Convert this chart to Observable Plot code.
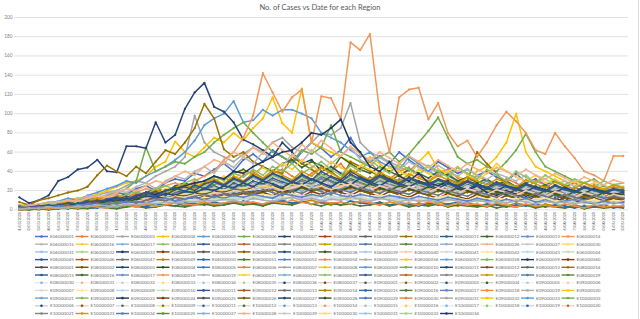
<!DOCTYPE html>
<html>
<head>
<meta charset="utf-8">
<script src="https://cdn.jsdelivr.net/npm/d3@7"></script>
<script src="https://cdn.jsdelivr.net/npm/@observablehq/plot@0.6"></script>
<style>
  html, body { margin: 0; padding: 0; background: #fff; }
  #wrap { position: relative; width: 638px; height: 319px; border-right: 1px solid #d9d9d9; overflow: hidden; }
  #title { position: absolute; top: 3px; left: 0; width: 640px; text-align: center; font: 7.5px Lato, "Open Sans", sans-serif; color: #595959; }
  #chart { position: absolute; top: 0; left: 0; }
  #legend { position: absolute; top: 232px; left: 0; }
</style>
</head>
<body>
<div id="wrap">
  <div id="chart"></div>
  <div id="title">No. of Cases vs Date for each Region</div>
  <svg id="legend" width="640" height="87"></svg>
</div>
<script>
const chartTitle = "No. of Cases vs Date for each Region";
const yTicks = [0, 20, 40, 60, 80, 100, 120, 140, 160, 180, 200];
const dates = [
  "01/03/2020","02/03/2020","03/03/2020","04/03/2020","05/03/2020","06/03/2020","07/03/2020","08/03/2020","09/03/2020","10/03/2020",
  "11/03/2020","12/03/2020","13/03/2020","14/03/2020","15/03/2020","16/03/2020","17/03/2020","18/03/2020","19/03/2020","20/03/2020",
  "21/03/2020","22/03/2020","23/03/2020","24/03/2020","25/03/2020","26/03/2020","27/03/2020","28/03/2020","29/03/2020","30/03/2020",
  "31/03/2020","01/04/2020","02/04/2020","03/04/2020","04/04/2020","05/04/2020","06/04/2020","07/04/2020","08/04/2020","09/04/2020",
  "10/04/2020","11/04/2020","12/04/2020","13/04/2020","14/04/2020","15/04/2020","16/04/2020","17/04/2020","18/04/2020","19/04/2020",
  "20/04/2020","21/04/2020","22/04/2020","23/04/2020","24/04/2020","25/04/2020","26/04/2020","27/04/2020","28/04/2020","29/04/2020",
  "30/04/2020","01/05/2020","02/05/2020"
];
const regionCodes = [
  "E06000001","E06000002","E06000003","E06000004","E06000005","E06000006","E06000007","E06000008","E06000009","E06000010",
  "E06000011","E06000012","E06000013","E06000014","E06000015","E06000016","E06000017","E06000018","E06000019","E06000020",
  "E06000021","E06000022","E06000023","E06000024","E06000025","E06000026","E06000027","E06000030","E06000031","E06000032",
  "E06000033","E06000034","E06000035","E06000036","E06000037","E06000038","E06000039","E06000040","E06000041","E06000042",
  "E06000043","E06000044","E06000045","E06000046","E06000047","E06000049","E06000050","E06000051","E06000052","E06000054",
  "E06000055","E06000056","E06000057","E06000058","E06000059","E06000060",
  "E08000001","E08000002","E08000003","E08000004","E08000005","E08000006","E08000007","E08000008","E08000009","E08000010",
  "E08000011","E08000012","E08000013","E08000014","E08000015","E08000016","E08000017","E08000018","E08000019",
  "E08000021","E08000022","E08000023","E08000024","E08000025","E08000026","E08000027","E08000028","E08000029","E08000030",
  "E08000031","E08000032","E08000033","E08000034","E08000035","E08000036","E08000037",
  "E09000001","E09000002","E09000003","E09000004","E09000005","E09000006","E09000007","E09000008","E09000009","E09000010",
  "E09000011","E09000012","E09000013","E09000014","E09000015","E09000016","E09000017","E09000018","E09000019","E09000020",
  "E09000021","E09000022","E09000023","E09000024","E09000025","E09000026","E09000027","E09000028","E09000029","E09000030",
  "E09000031","E09000032","E09000033",
  "E10000003","E10000006","E10000007","E10000008","E10000009","E10000011","E10000012","E10000013","E10000014","E10000015",
  "E10000016","E10000017","E10000018","E10000019","E10000020","E10000021","E10000023","E10000024","E10000025","E10000027",
  "E10000028","E10000029","E10000030","E10000031","E10000032","E10000034"
];

// Daily cases per region (63 dates each)
const E06000001 = [2,4,3,6,8,7,10,12,11,15, 18,16,22,25,20,28,32,30,38,35, 42,48,40,52,58,50,62,55,48,60, 70,64,55,62,75,58,50,56,48,60, 52,45,40,50,44,38,42,36,40,34, 30,38,28,32,26,30,24,28,22,20, 25,18,20];
const E06000002 = [3,2,4,6,5,8,7,10,9,12, 14,11,16,18,15,20,24,22,28,25, 30,34,28,36,40,33,38,42,35,30, 38,45,40,48,36,42,50,38,32,40, 44,35,30,38,42,33,28,36,30,25, 32,28,22,30,26,20,24,18,22,26, 20,24,22];
const E06000003 = [5,4,6,8,7,10,12,11,15,18, 20,25,30,28,35,40,45,55,98,70, 60,55,50,58,65,60,70,75,65,60, 70,80,78,85,111,70,60,55,50,45, 40,50,45,38,35,30,28,35,30,25, 28,22,20,25,18,15,20,14,12,15, 10,12,9];
const E06000004 = [4,6,5,8,7,10,12,14,16,20, 24,28,30,35,45,50,71,60,55,65, 75,70,80,72,85,95,117,90,80,126, 70,65,60,55,50,45,55,48,40,45, 35,50,60,42,38,35,30,40,45,55, 70,100,60,45,40,35,30,25,28,22, 20,18,15];
const E06000005 = [3,5,4,7,9,12,10,15,18,22, 25,30,28,35,40,45,52,60,72,88, 95,100,113,91,93,104,98,104,104,100, 95,80,75,70,62,55,60,50,45,42, 55,48,40,35,38,30,28,25,30,22, 20,25,18,15,20,14,12,16,10,12, 9,11,8];
const E06000006 = [2,3,5,4,6,8,10,9,12,15, 18,22,30,65,40,45,50,48,55,60, 70,78,85,91,80,70,60,55,50,62, 58,65,88,60,55,50,45,55,60,50, 58,70,82,96,75,55,48,52,45,40, 50,62,79,60,45,40,35,30,28,32, 25,20,22];
const E06000007 = [13,7,10,15,30,34,42,44,52,40, 39,66,66,64,91,70,78,105,122,132, 107,102,91,73,68,62,55,70,60,48, 52,40,45,38,30,35,28,40,30,25, 33,28,22,30,24,26,20,28,18,22, 15,20,14,18,12,16,10,14,12,9, 15,10,12];
const E06000008 = [1,3,2,4,3,6,5,8,7,6, 10,9,12,11,14,13,16,15,20,18, 22,19,25,21,18,24,28,22,26,30, 24,20,27,31,25,22,28,24,20,26, 23,19,25,21,18,24,20,17,22,19, 16,21,18,14,19,16,13,17,15,12, 16,14,12];
const E06000009 = [4,2,5,3,6,5,8,6,9,11, 8,13,10,15,12,18,14,20,17,22, 19,25,21,27,24,20,26,23,29,25, 22,28,24,21,27,23,19,25,22,18, 24,20,17,22,19,16,21,18,15,20, 17,14,19,16,13,18,15,12,17,14, 11,15,13];
const E06000010 = [8,5,10,12,15,18,20,24,36,46, 40,35,45,38,50,62,58,70,85,110, 95,63,55,60,50,45,40,38,55,48, 42,35,40,32,50,45,40,35,30,36, 28,30,25,22,32,28,30,60,48,38, 25,20,24,18,15,20,16,12,14,10, 12,9,8];
const E06000011 = [0,1,2,1,3,2,4,5,3,6, 7,5,9,8,11,10,13,12,16,14, 18,15,20,17,22,19,24,21,18,23, 20,26,22,19,25,21,18,23,20,17, 22,19,16,21,18,15,20,17,14,19, 16,13,18,15,12,17,14,11,16,13, 10,14,12];
const E06000012 = [2,3,5,4,6,8,7,10,12,9, 14,16,13,18,22,19,25,28,24,30, 35,32,38,42,36,45,40,48,52,44, 50,46,40,55,48,42,38,45,40,35, 42,38,33,40,36,30,34,28,32,26, 30,24,28,22,26,20,24,18,22,16, 20,18,16];
const E06000013 = [1,2,1,3,4,3,5,6,4,8, 9,7,11,10,13,12,15,18,14,20, 17,22,19,25,21,28,24,30,26,22, 28,32,26,23,29,25,31,27,23,28, 24,20,26,22,19,24,21,18,23,20, 17,22,19,16,20,17,14,18,15,13, 17,14,15];
const E06000014 = [3,5,4,7,6,9,8,12,10,14, 16,13,18,22,20,25,28,24,30,35, 40,52,60,75,98,142,122,102,117,125, 70,118,116,94,174,166,183,101,60,117, 125,127,94,111,80,66,72,55,70,88, 102,92,80,62,58,80,66,54,40,36, 30,56,56];
const E06000015 = [3,5,4,7,9,8,11,14,12,16, 20,18,24,28,22,30,35,32,40,45, 38,50,44,55,48,60,52,45,58,50, 62,55,48,56,65,52,46,54,48,42, 50,44,38,46,40,35,42,36,32,38, 34,30,36,28,32,26,30,24,28,22, 26,20,24];
const E06000016 = [2,1,3,5,4,6,8,7,10,9, 12,15,13,18,16,22,20,26,24,30, 28,35,32,40,36,44,38,48,42,52, 46,40,50,44,38,46,42,36,44,40, 34,42,38,32,40,45,36,30,38,48, 40,34,30,36,28,32,26,30,24,28, 22,26,24];
const E06000017 = [1,2,3,2,4,5,4,6,7,6, 8,10,9,12,11,14,13,16,15,18, 17,20,19,22,21,24,20,26,23,19, 25,22,27,24,20,26,23,28,25,21, 27,24,20,26,23,19,25,22,18,24, 21,17,23,20,16,22,19,15,21,18, 14,20,17];
const E06000018 = [2,4,3,5,7,6,9,8,12,14, 11,16,19,15,22,25,21,28,32,26, 35,30,38,34,42,36,45,40,48,38, 44,50,42,36,46,40,52,44,38,48, 42,36,46,40,34,44,38,32,42,36, 30,40,34,28,36,30,26,32,28,24, 30,26,28];
const E06000019 = [1,3,2,4,3,5,7,6,8,10, 9,12,11,14,16,13,18,20,17,22, 25,21,28,24,30,27,33,29,26,32, 28,35,30,26,33,29,25,31,27,24, 30,26,23,28,25,21,27,23,20,25, 22,19,24,21,18,23,20,17,22,19, 16,21,18];
const E06000020 = [0,2,1,3,2,4,3,5,6,4, 7,9,8,11,10,13,12,15,14,17, 16,19,18,21,20,23,22,19,24,21, 26,23,20,25,22,27,24,21,26,23, 20,25,22,19,24,21,18,23,20,17, 22,19,16,21,18,15,20,17,14,19, 16,13,15];
const E06000021 = [2,1,3,4,2,5,6,4,7,9, 8,11,10,13,15,12,17,19,16,21, 24,20,26,23,28,25,31,27,24,30, 26,33,29,25,31,27,34,30,26,32, 28,24,30,26,23,28,25,21,27,23, 20,25,22,19,24,21,18,23,20,17, 21,18,20];
const E06000022 = [3,2,5,4,6,8,7,9,12,10, 14,13,17,15,20,18,23,26,22,28, 32,27,35,30,38,33,41,36,31,40, 35,44,38,33,42,36,31,39,34,30, 37,33,29,36,31,27,34,30,26,32, 28,24,31,27,23,29,25,22,28,24, 21,26,23];
const E06000023 = [1,1,2,3,2,4,5,3,6,7, 5,8,10,9,12,11,14,13,16,15, 18,17,20,19,23,21,25,22,20,24, 21,27,23,20,25,22,28,24,21,26, 23,20,25,22,19,24,21,18,23,20, 17,22,19,16,21,18,15,20,17,14, 18,15,16];
const E06000024 = [2,3,2,4,6,5,7,9,8,10, 13,11,15,14,18,16,21,19,24,22, 27,25,30,27,33,29,36,31,28,34, 30,37,32,28,35,31,27,33,29,26, 32,28,25,30,27,23,29,25,22,27, 24,21,26,23,20,25,22,19,24,21, 18,22,20];
const E06000025 = [1,2,3,2,4,3,5,4,6,8, 7,9,11,10,12,14,13,16,15,18, 20,17,22,19,24,21,26,23,20,25, 22,27,24,21,26,23,20,25,22,19, 24,21,18,23,20,17,22,19,16,21, 18,15,20,17,14,19,16,13,18,15, 12,16,14];
const E06000026 = [2,4,6,5,8,10,9,12,15,13, 18,22,20,25,30,28,35,40,36,45, 52,48,60,55,65,58,70,62,55,68, 60,72,64,56,66,58,52,60,54,48, 56,50,44,52,46,40,48,42,38,44, 40,35,42,36,32,38,33,28,34,30, 26,31,28];
const E06000027 = [1,3,2,4,5,3,6,8,7,9, 11,10,13,12,15,17,14,19,21,18, 23,20,25,22,27,24,29,26,23,28, 25,30,27,24,29,26,23,28,25,22, 27,24,21,26,23,20,25,22,19,24, 21,18,23,20,17,22,19,16,21,18, 15,19,17];
const E06000030 = [2,1,3,2,5,4,6,5,8,7, 9,11,10,13,12,15,14,17,16,19, 18,21,20,23,22,25,24,21,27,23, 20,26,22,28,24,21,27,23,20,25, 22,19,24,21,18,23,20,17,22,19, 16,21,18,15,20,17,14,19,16,13, 17,14,15];
const E06000031 = [1,2,2,3,4,3,5,6,5,7, 8,7,10,9,11,13,12,14,16,15, 17,19,18,21,20,23,22,19,24,21, 23,20,25,22,19,24,21,18,23,20, 22,19,17,21,18,16,20,17,15,19, 16,14,18,15,13,17,14,12,16,13, 11,15,13];
const E06000032 = [3,2,4,5,4,6,8,7,10,9, 12,14,11,16,18,15,20,22,19,25, 28,24,30,27,33,29,35,31,27,33, 29,36,32,28,34,30,26,32,28,25, 31,27,24,29,26,22,28,24,21,27, 23,20,25,22,19,24,21,18,22,19, 17,21,19];
const E06000033 = [1,2,3,2,4,5,6,5,8,10, 12,9,14,18,16,20,22,25,28,30, 35,32,40,38,45,50,55,60,62,70, 80,78,85,94,70,60,45,40,50,35, 30,38,28,25,30,22,20,25,18,15, 20,16,12,15,10,12,9,8,11,7, 9,8,7];
const E06000034 = [1,2,1,3,2,4,3,5,4,6, 5,8,7,9,8,11,10,12,11,14, 13,15,14,17,16,18,15,20,17,14, 19,16,21,18,15,20,17,14,19,16, 13,18,15,12,17,14,11,16,13,10, 15,12,9,14,11,8,13,10,7,12, 9,11,10];
const E06000035 = [2,3,4,3,5,7,6,8,10,9, 11,14,12,16,19,15,21,24,20,27, 30,26,33,29,36,31,38,34,29,37, 32,28,35,31,40,34,30,36,32,28, 34,30,27,32,29,25,30,27,23,29, 25,22,27,24,20,26,22,19,24,21, 18,22,20];
const E06000036 = [0,1,2,1,3,2,4,3,5,6, 4,7,8,6,9,11,10,12,13,11, 15,14,17,16,19,18,21,17,20,23, 19,22,18,21,24,20,17,22,19,16, 21,18,15,20,17,14,19,16,13,18, 15,12,17,14,11,16,13,10,15,12, 9,13,11];
const E06000037 = [1,2,4,3,5,4,7,6,8,10, 9,12,11,14,13,17,15,19,18,22, 20,25,23,28,24,30,27,23,29,26, 32,28,24,30,26,33,29,25,31,27, 24,29,26,22,28,24,21,27,23,20, 25,22,19,24,21,18,23,20,17,22, 19,16,18];
const E06000038 = [2,1,3,4,3,5,4,6,8,7, 9,8,11,10,13,12,15,14,17,16, 19,18,21,20,23,19,25,22,18,24, 20,26,22,19,24,21,27,23,20,25, 22,19,24,21,18,23,20,17,22,19, 16,21,18,15,20,17,14,19,16,13, 18,15,16];
const E06000039 = [0,1,1,2,1,3,2,4,3,5, 4,6,5,7,6,8,7,9,8,10, 9,11,10,12,11,13,12,10,14,11, 13,10,15,12,9,14,11,13,10,12, 9,11,8,13,10,12,9,11,8,10, 7,9,11,8,10,7,9,6,8,7, 9,6,8];
const E06000040 = [1,0,2,3,2,4,3,5,4,6, 8,7,9,11,10,12,14,13,16,15, 18,17,20,19,22,21,24,20,23,26, 22,25,21,24,27,23,20,25,22,19, 24,21,18,23,20,17,22,19,16,21, 18,15,20,17,14,19,16,13,18,15, 12,16,14];
const E06000041 = [1,2,3,2,4,3,5,4,6,5, 7,6,8,7,9,8,10,9,11,10, 12,11,13,12,14,13,15,12,14,16, 13,15,12,14,17,13,11,15,12,14, 11,13,10,12,14,11,9,13,10,12, 9,11,8,10,12,9,7,11,8,10, 7,9,8];
const E06000042 = [2,1,2,3,2,4,3,5,4,6, 5,7,6,8,7,10,9,11,10,13, 12,14,13,15,14,16,15,13,17,14, 16,13,18,15,12,17,14,16,13,15, 12,14,11,13,15,12,10,14,11,13, 10,12,9,11,13,10,8,12,9,11, 8,10,9];
const E06000043 = [0,1,2,1,2,3,2,4,3,5, 6,5,7,6,8,7,9,8,10,9, 11,10,12,11,13,12,14,11,13,10, 12,14,11,13,10,12,9,11,13,10, 12,9,11,8,10,12,9,11,8,10, 7,9,11,8,10,7,9,6,8,7, 9,6,8];
const E06000044 = [1,2,1,3,2,4,3,5,4,6, 5,7,6,8,9,7,10,8,11,9, 12,10,13,11,14,12,15,13,11,14, 12,15,13,11,14,12,10,13,11,9, 12,10,8,11,9,12,10,8,11,9, 7,10,8,11,9,7,10,8,6,9, 7,8,7];
const E06000045 = [3,2,4,5,4,7,6,9,8,11, 13,10,15,18,14,20,23,19,26,22, 29,25,32,28,35,30,38,33,28,36, 31,40,34,29,37,32,27,35,30,26, 33,28,25,31,27,23,29,25,22,27, 24,20,26,22,19,25,21,18,23,20, 17,21,19];
const E06000047 = [1,2,3,2,4,5,3,6,7,5, 8,9,7,10,12,9,13,11,14,16, 13,17,15,19,16,21,18,15,20,17, 22,19,16,21,18,23,20,17,22,19, 16,21,18,15,20,17,14,19,16,13, 18,15,12,17,14,11,16,13,10,15, 12,14,12];
const E06000049 = [0,1,0,2,1,3,2,1,3,4, 2,5,3,4,6,5,7,4,6,8, 5,7,9,6,8,5,7,9,6,8, 10,7,5,8,6,9,7,5,8,6, 4,7,5,8,6,4,7,5,3,6, 4,7,5,3,6,4,2,5,3,4, 2,3,3];
const E06000050 = [1,0,1,1,2,1,3,2,2,4, 3,5,4,3,6,5,4,7,6,5, 8,6,7,9,7,6,8,10,7,9, 6,8,7,5,9,7,6,8,5,7, 6,4,7,5,6,8,5,4,6,5, 3,5,4,6,3,5,4,2,4,3, 5,2,4];
const E06000051 = [0,0,1,0,1,2,1,2,3,2, 1,3,4,2,3,5,4,3,5,6, 4,5,7,5,6,4,7,6,5,8, 6,4,7,5,6,4,5,7,4,6, 3,5,4,6,3,5,4,3,5,2, 4,3,5,2,4,3,2,4,1,3, 2,3,2];
const E06000052 = [2,1,3,2,4,3,5,6,4,7, 6,8,9,7,10,12,9,11,13,10, 14,12,15,13,16,14,12,17,15,13, 16,14,18,15,13,16,14,12,15,13, 11,14,12,10,13,11,9,12,10,8, 11,9,12,8,10,7,9,11,8,6, 9,7,8];
const E06000054 = [0,1,2,1,2,3,2,4,3,2, 4,5,3,6,4,5,7,6,5,8, 6,7,9,7,8,6,9,7,10,8, 6,9,7,8,6,9,7,5,8,6, 7,5,8,6,4,7,5,6,4,7, 5,3,6,4,5,3,6,4,2,5, 3,4,4];
const E06000055 = [1,2,1,3,2,2,4,3,5,4, 3,6,5,7,6,8,7,9,8,10, 9,11,10,8,12,10,9,11,13,10, 12,9,11,10,13,11,9,12,10,8, 11,9,10,8,11,9,7,10,8,9, 7,10,8,6,9,7,8,6,9,7, 5,8,6];

const plottedSeries = {
  E06000001, E06000002, E06000003, E06000004, E06000005, E06000006, E06000007, E06000008, E06000009, E06000010,
  E06000011, E06000012, E06000013, E06000014, E06000015, E06000016, E06000017, E06000018, E06000019, E06000020,
  E06000021, E06000022, E06000023, E06000024, E06000025, E06000026, E06000027, E06000030, E06000031, E06000032,
  E06000033, E06000034, E06000035, E06000036, E06000037, E06000038, E06000039, E06000040, E06000041, E06000042,
  E06000043, E06000044, E06000045, E06000047, E06000049, E06000050, E06000051, E06000052, E06000054, E06000055
};

// Excel-like series palette (6 accent families, several shade blocks)
const palette = [
  ["#4472C4","#ED7D31","#A5A5A5","#FFC000","#5B9BD5","#70AD47"],
  ["#264478","#9E480E","#636363","#997300","#255E91","#43682B"],
  ["#698ED0","#F1975A","#B7B7B7","#FFCD33","#7CAFDD","#8CC168"],
  ["#365B9D","#BE6427","#848484","#CC9A00","#497CAA","#5A8A39"],
  ["#8FAADC","#F4B183","#C9C9C9","#FFD966","#9DC3E6","#A9D18E"],
  ["#203864","#843C0C","#525252","#7F6000","#1F4E79","#385723"],
  ["#B4C7E7","#F8CBAD","#DBDBDB","#FFE699","#BDD7EE","#C5E0B4"],
  ["#2F5597","#B4581E","#737373","#B38600","#2A6AA8","#4E7A31"],
  ["#5A82CA","#EF8B46","#AEAEAE","#FFC61A","#6BA5D9","#7EB65A"],
  ["#1C3461","#7A3A10","#4A4A4A","#735600","#1B4670","#324E20"]
];
const colorOf = k => palette[Math.floor(k / 6) % palette.length][k % 6];
const paleRanges = [[84, 97], [126, 139]];

// Build long table
const rows = [];
for (const [code, values] of Object.entries(plottedSeries)) {
  const k = regionCodes.indexOf(code);
  values.forEach((v, i) => rows.push({code, k, date: dates[i], value: v, color: colorOf(k)}));
}
const codesInOrder = Object.keys(plottedSeries).sort((a, b) => regionCodes.indexOf(a) - regionCodes.indexOf(b));

const seriesMarks = codesInOrder.flatMap(code => {
  const d = rows.filter(r => r.code === code);
  return [
    Plot.line(d, {x: "date", y: "value", stroke: "color", strokeWidth: 1.5, strokeLinejoin: "round"}),
    Plot.dot(d, {x: "date", y: "value", fill: "color", r: 1.15})
  ];
});

const chart = Plot.plot({
  width: 640,
  height: 232,
  marginTop: 17,
  marginBottom: 22,
  marginLeft: 14,
  marginRight: 10,
  style: {fontFamily: "Lato, 'Open Sans', sans-serif", background: "transparent"},
  x: {type: "point", domain: dates, range: [14, 629.6]},
  y: {domain: [0, 200]},
  color: {type: "identity"},
  marks: [
    Plot.ruleY(yTicks, {stroke: "#d9d9d9", strokeWidth: 0.8}),
    Plot.axisY({ticks: yTicks, tickSize: 0, tickPadding: 2, fontSize: 4.8, color: "#7f7f7f", label: null}),
    Plot.axisX({tickSize: 0, tickPadding: 2, tickRotate: -90, fontSize: 3.8, color: "#595959", label: null}),
    ...seriesMarks
  ]
});
document.getElementById("chart").appendChild(chart);

// Legend (14 columns, row-major)
const lg = d3.select("#legend");
regionCodes.forEach((code, k) => {
  const col = k % 14, row = Math.floor(k / 14);
  const x0 = 35 + col * 40.5, yc = 4.5 + row * 7.7;
  const c = colorOf(k);
  const pale = paleRanges.some(([a, b]) => k >= a && k <= b);
  const g = lg.append("g");
  g.append("line").attr("x1", x0).attr("x2", x0 + 13).attr("y1", yc).attr("y2", yc)
    .attr("stroke", pale ? d3.interpolateRgb(c, "#ffffff")(0.75) : c).attr("stroke-width", 1.4);
  g.append("circle").attr("cx", x0 + 6.5).attr("cy", yc).attr("r", 1.3).attr("fill", c);
  g.append("text").attr("x", x0 + 15).attr("y", yc + 1.6).text(code)
    .attr("font-size", 4.6).attr("font-family", "Lato, 'Open Sans', sans-serif").attr("fill", "#6f6f6f");
});
</script>
</body>
</html>
